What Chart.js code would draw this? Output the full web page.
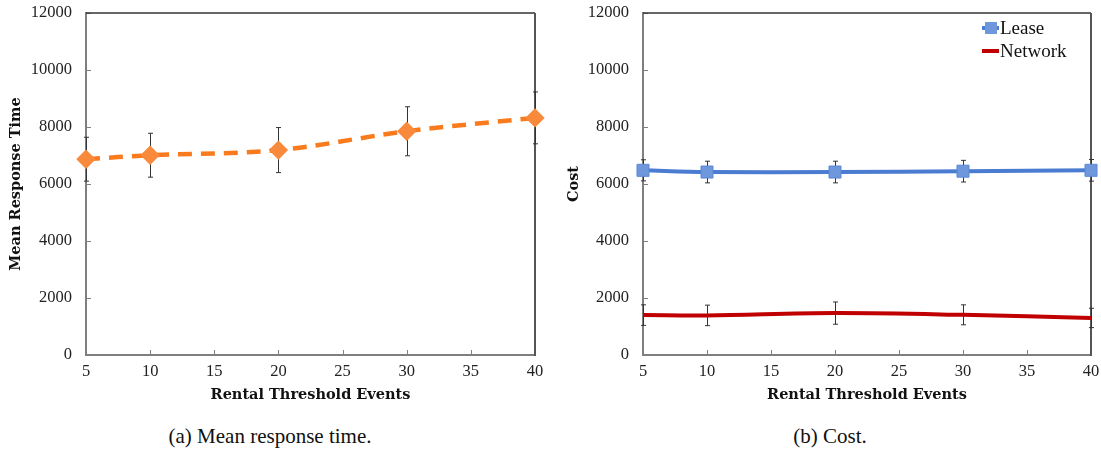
<!DOCTYPE html>
<html>
<head>
<meta charset="utf-8">
<script src="https://cdn.jsdelivr.net/npm/chart.js@4/dist/chart.umd.min.js"></script>
<style>
  body { margin: 0; background: #fff; width: 1101px; height: 450px; position: relative; overflow: hidden; }
  .panel { position: absolute; top: 0; }
  .caption { position: absolute; top: 424px; font-family: "Liberation Serif", serif; font-size: 21px; color: #111; transform: translateX(-50%); white-space: nowrap; }
</style>
</head>
<body>
<div class="panel" style="left:0"><canvas id="responseChart" width="550" height="410"></canvas></div>
<div class="panel" style="left:555px"><canvas id="costChart" width="546" height="410"></canvas></div>
<div class="caption" style="left:270px">(a) Mean response time.</div>
<div class="caption" style="left:830px">(b) Cost.</div>
<script>
// Rental threshold values on the x axis
const thresholds = [5, 10, 20, 30, 40];

// (a) mean response time with error margins
const responseTime = [6870, 7010, 7190, 7850, 8320];
const responseErr = [770, 770, 790, 860, 910];

// (b) cost per series with error margins
const leaseCost = [6480, 6420, 6420, 6450, 6480];
const leaseErr = [370, 380, 380, 380, 380];
const networkCost = [1400, 1390, 1470, 1410, 1300];
const networkErr = [360, 360, 390, 350, 340];

const yTicks = [0, 2000, 4000, 6000, 8000, 10000, 12000];
const xTicks = [5, 10, 15, 20, 25, 30, 35, 40];

const serif = "'Liberation Serif', serif";
const tickFont = { family: serif, size: 16.5 };
const titleFont = { family: "'DejaVu Serif', serif", size: 14.5, weight: 'bold' };
const axisGray = '#7f7f7f';

function points(values) {
    return thresholds.map((x, i) => ({ x: x, y: values[i] }));
}

// Frame, inward tick marks and error bars
const framePlugin = {
    id: 'frame',
    beforeDatasetsDraw(chart) {
        const { ctx, chartArea: a, scales: { x, y } } = chart;
        ctx.save();
        ctx.strokeStyle = axisGray;
        ctx.lineWidth = 1;
        yTicks.forEach(v => {
            const py = Math.round(y.getPixelForValue(v)) + 0.5;
            ctx.beginPath(); ctx.moveTo(a.left, py); ctx.lineTo(a.left + 5, py); ctx.stroke();
        });
        xTicks.forEach(v => {
            const px = Math.round(x.getPixelForValue(v)) + 0.5;
            ctx.beginPath(); ctx.moveTo(px, a.bottom); ctx.lineTo(px, a.bottom - 5); ctx.stroke();
        });
        // top and right border
        ctx.strokeStyle = '#333';
        ctx.lineWidth = 1.5;
        ctx.beginPath(); ctx.moveTo(a.left, a.top); ctx.lineTo(a.right, a.top); ctx.stroke();
        ctx.strokeStyle = '#555';
        ctx.lineWidth = 2;
        ctx.beginPath(); ctx.moveTo(a.right, a.top); ctx.lineTo(a.right, a.bottom + 1); ctx.stroke();

        // error bars
        ctx.strokeStyle = '#333';
        ctx.lineWidth = 1;
        chart.data.datasets.forEach(ds => {
            if (!ds.errors) return;
            ds.data.forEach((p, i) => {
                const px = Math.round(x.getPixelForValue(p.x)) + 0.5;
                const top = y.getPixelForValue(p.y + ds.errors[i]);
                const bot = y.getPixelForValue(p.y - ds.errors[i]);
                ctx.beginPath();
                ctx.moveTo(px, top); ctx.lineTo(px, bot);
                ctx.moveTo(px - 2.5, top); ctx.lineTo(px + 2.5, top);
                ctx.moveTo(px - 2.5, bot); ctx.lineTo(px + 2.5, bot);
                ctx.stroke();
            });
        });
        ctx.restore();
    }
};

// Legend drawn inside the plot area (line with marker)
const insideLegend = {
    id: 'insideLegend',
    afterDatasetsDraw(chart) {
        const { ctx } = chart;
        ctx.save();
        ctx.font = "19px " + serif;
        ctx.textBaseline = 'middle';
        chart.data.datasets.forEach((ds, i) => {
            const ly = 28 + i * 23;
            const lx = 427;
            ctx.strokeStyle = ds.borderColor;
            ctx.lineWidth = 4;
            ctx.beginPath(); ctx.moveTo(lx, ly); ctx.lineTo(lx + 17, ly); ctx.stroke();
            if (ds.pointRadius > 0) {
                ctx.fillStyle = ds.pointBackgroundColor;
                ctx.fillRect(lx + 3, ly - 6, 12, 12);
            }
            ctx.fillStyle = '#111';
            ctx.fillText(ds.label, lx + 18, ly + 1);
        });
        ctx.restore();
    }
};

function makeOptions(yTitle, yWidth, titlePad, rightPad) {
    return {
        responsive: false,
        animation: false,
        layout: { padding: { top: 13, right: rightPad, left: 0, bottom: 0 } },
        plugins: { legend: { display: false }, tooltip: { enabled: false } },
        scales: {
            x: {
                type: 'linear', min: 5, max: 40,
                afterBuildTicks: s => { s.ticks = xTicks.map(v => ({ value: v })); },
                afterFit: s => { s.height = 55; s.paddingLeft = 0; s.paddingRight = 0; },
                grid: { drawOnChartArea: false, drawTicks: false },
                border: { color: axisGray, width: 2 },
                ticks: { font: tickFont, color: '#222', padding: 7, callback: v => String(v) },
                title: { display: true, text: 'Rental Threshold Events', font: titleFont, color: '#111', padding: { top: 0, bottom: 6 } }
            },
            y: {
                min: 0, max: 12000,
                afterBuildTicks: s => { s.ticks = yTicks.map(v => ({ value: v })); },
                afterFit: s => { s.width = yWidth; s.paddingTop = 0; s.paddingBottom = 0; },
                grid: { drawOnChartArea: false, drawTicks: false },
                border: { color: axisGray, width: 2 },
                ticks: { font: tickFont, color: '#222', padding: 14, callback: v => String(v) },
                title: { display: true, text: yTitle, font: titleFont, color: '#111', padding: { top: titlePad, bottom: 0 } }
            }
        }
    };
}

new Chart(document.getElementById('responseChart'), {
    type: 'line',
    data: {
        datasets: [{
            label: 'Mean Response Time',
            data: points(responseTime),
            errors: responseErr,
            borderColor: '#FA7A1E',
            borderWidth: 4.5,
            borderDash: [14, 9],
            tension: 0.35,
            pointStyle: 'rectRot',
            pointRadius: 6.5,
            pointBackgroundColor: '#F98A3C',
            pointBorderColor: '#F98A3C',
            clip: false
        }]
    },
    options: makeOptions('Mean Response Time', 86, 8, 15),
    plugins: [framePlugin]
});

new Chart(document.getElementById('costChart'), {
    type: 'line',
    data: {
        datasets: [{
            label: 'Lease',
            data: points(leaseCost),
            errors: leaseErr,
            borderColor: '#4A7CD2',
            borderWidth: 4,
            tension: 0.35,
            pointStyle: 'rect',
            pointRadius: 8.5,
            pointBackgroundColor: '#6F97DB',
            pointBorderColor: '#5A88D6',
            pointBorderWidth: 1,
            clip: false
        }, {
            label: 'Network',
            data: points(networkCost),
            errors: networkErr,
            borderColor: '#C00000',
            borderWidth: 4,
            tension: 0.35,
            pointRadius: 0,
            clip: false
        }]
    },
    options: makeOptions('Cost', 88, 11, 10),
    plugins: [framePlugin, insideLegend]
});
</script>
</body>
</html>
